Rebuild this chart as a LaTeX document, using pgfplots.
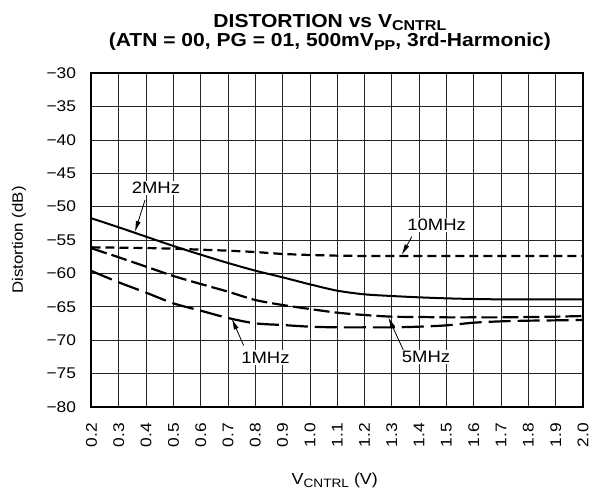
\documentclass[border=0pt]{standalone}
\usepackage{fontspec}
\setmainfont{Liberation Sans}[FakeStretch=1.12]
\usepackage{pgfplots}
\pgfplotsset{compat=1.18}
\usetikzlibrary{arrows.meta}
\newcommand{\sub}[1]{\raisebox{-0.16em}{\scalebox{0.76}{#1}}}

\begin{document}
\begin{tikzpicture}
\begin{axis}[
  scale only axis,
  width=491.5pt, height=333.4pt,
  xmin=0.2, xmax=2.0, ymin=-80, ymax=-30,
  xtick={0.2,0.3,0.4,0.5,0.6,0.7,0.8,0.9,1.0,1.1,1.2,1.3,1.4,1.5,1.6,1.7,1.8,1.9,2.0},
  xticklabels={0.2,0.3,0.4,0.5,0.6,0.7,0.8,0.9,1.0,1.1,1.2,1.3,1.4,1.5,1.6,1.7,1.8,1.9,2.0},
  ytick={-80,-75,-70,-65,-60,-55,-50,-45,-40,-35,-30},
  yticklabels={−80,−75,−70,−65,−60,−55,−50,−45,−40,−35,−30},
  major tick length=0pt,
  ticklabel style={font=\fontsize{15.5}{15.5}\selectfont},
  xticklabel style={yshift=-16pt, rotate=90, anchor=east, inner sep=0pt},
  yticklabel style={xshift=-12pt},
  grid=major,
  major grid style={black!85, line width=0.8pt},
  axis line style={line width=2pt},
  clip=false,
]
% 2MHz
\addplot[black, line width=2pt, smooth] coordinates {
  (0.2,-51.75) (0.3,-53.1) (0.4,-54.5) (0.5,-55.9) (0.6,-57.2) (0.7,-58.45)
  (0.8,-59.6) (0.9,-60.6) (1.0,-61.65) (1.1,-62.6) (1.2,-63.15) (1.3,-63.4)
  (1.4,-63.6) (1.5,-63.75) (1.6,-63.85) (1.7,-63.9) (1.8,-63.9) (1.9,-63.9) (2.0,-63.9)};
% 10MHz
\addplot[black, line width=2.2pt, dash pattern=on 9pt off 5pt] coordinates {
  (0.2,-56.1) (0.3,-56.15) (0.4,-56.2) (0.5,-56.3) (0.6,-56.45) (0.7,-56.6)
  (0.8,-56.8) (0.9,-57.1) (1.0,-57.25) (1.1,-57.35) (1.2,-57.4) (1.3,-57.4)
  (1.4,-57.4) (1.5,-57.4) (1.6,-57.4) (1.7,-57.4) (1.8,-57.4) (1.9,-57.4) (2.0,-57.4)};
% 5MHz
\addplot[black, line width=2.2pt, dash pattern=on 16pt off 5pt, smooth] coordinates {
  (0.2,-56.25) (0.3,-57.6) (0.4,-59.0) (0.5,-60.4) (0.6,-61.6) (0.7,-62.75)
  (0.8,-64.0) (0.9,-64.75) (1.0,-65.35) (1.1,-65.9) (1.2,-66.25) (1.3,-66.5)
  (1.4,-66.55) (1.5,-66.6) (1.6,-66.6) (1.7,-66.6) (1.8,-66.55) (1.9,-66.5) (2.0,-66.4)};
% 1MHz
\addplot[black, line width=2.2pt, dash pattern=on 22pt off 7pt, smooth] coordinates {
  (0.2,-59.65) (0.3,-61.35) (0.4,-62.9) (0.5,-64.5) (0.6,-65.6) (0.7,-66.7)
  (0.8,-67.5) (0.9,-67.75) (1.0,-68.0) (1.1,-68.1) (1.2,-68.1) (1.3,-68.1)
  (1.4,-68.0) (1.5,-67.8) (1.6,-67.4) (1.7,-67.2) (1.8,-67.1) (1.9,-67.05) (2.0,-67.0)};

% annotations
\begin{scope}[every node/.style={fill=white, inner sep=1.5pt, font=\fontsize{16.5}{16.5}\selectfont},
              arr/.style={-{Latex[length=11pt,width=5pt]}, line width=0.8pt}]
\node at (axis cs:0.436,-47.2) {2MHz};
\draw[arr] (axis cs:0.396,-49.0) -- (axis cs:0.359,-53.8);
\node at (axis cs:1.464,-52.75) {10MHz};
\draw[arr] (axis cs:1.373,-54.5) -- (axis cs:1.336,-57.25);
\node at (axis cs:0.837,-72.6) {1MHz};
\draw[arr] (axis cs:0.757,-70.8) -- (axis cs:0.714,-66.8);
\node at (axis cs:1.425,-72.55) {5MHz};
\draw[arr] (axis cs:1.342,-71.5) -- (axis cs:1.287,-66.6);
\end{scope}

\coordinate (O) at (rel axis cs:0,0);
\coordinate (T) at (rel axis cs:0.485,1);
\coordinate (L) at (rel axis cs:0,0.5);
\coordinate (B) at (rel axis cs:0.495,0);
\end{axis}

\node[anchor=base, inner sep=0pt, font=\bfseries\fontsize{18.8}{18.8}\selectfont] at ([yshift=46pt]T) {DISTORTION vs V\sub{CNTRL}};
\node[anchor=base, inner sep=0pt, font=\bfseries\fontsize{18.8}{18.8}\selectfont] at ([yshift=26.3pt]T) {(ATN = 00, PG = 01, 500mV\sub{PP}, 3rd-Harmonic)};
\node[rotate=90, font=\fontsize{15}{15}\selectfont] at ([xshift=-72.5pt]L) {Distortion (dB)};
\node[anchor=base, font=\fontsize{16}{16}\selectfont] at ([yshift=-78.3pt]B) {V\sub{CNTRL} (V)};

\pgfresetboundingbox
\path ([shift={(-91.5pt,-82.3pt)}]O) rectangle ++(589pt,489pt);
\end{tikzpicture}
\end{document}
